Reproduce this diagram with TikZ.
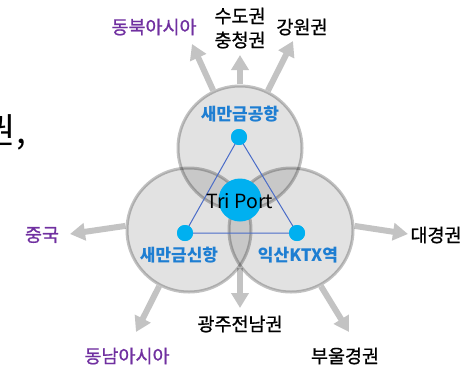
\documentclass[tikz,border=0pt]{standalone}
\usepackage{fontspec}
\setmainfont{Noto Sans CJK KR}
\newfontfamily\medfont{Noto Sans CJK KR}[FakeBold=0.9]
\usetikzlibrary{arrows.meta}
\definecolor{arrgray}{HTML}{C3C3C3}
\definecolor{labblue}{HTML}{1E7ED2}
\definecolor{dotcyan}{HTML}{00B0F0}
\definecolor{linblue}{HTML}{4A6CC8}
\definecolor{labpurple}{HTML}{7030A0}
\tikzset{
  zone/.style={circle, minimum size=124pt, inner sep=0pt, fill=black, fill opacity=0.115, draw=black, draw opacity=0.24, line width=3pt},
  arr/.style={draw=arrgray, line width=6pt, -{Triangle[width=17pt,length=15pt]}, shorten <=1.5pt},
  outlab/.style={font=\medfont\fontsize{18.5}{24}\selectfont, text=black, inner sep=0pt, align=center},
  farlab/.style={outlab, text=labpurple},
  portlab/.style={font=\bfseries\fontsize{17}{19}\selectfont, text=labblue, inner sep=0pt},
  portdot/.style={circle, fill=dotcyan, minimum size=16pt, inner sep=0pt},
  tri/.style={draw=linblue, line width=1pt}
}
\begin{document}
\begin{tikzpicture}[x=1pt,y=-1pt]
\useasboundingbox (0,0) rectangle (470,365);
\clip (0,0) rectangle (470,365);
% circle geometry (used as anchors)
\coordinate (Tc) at (240,148);
\coordinate (Lc) at (189,230);
\coordinate (Rc) at (291,230);
% tips of arrows
\coordinate (tNEA) at (192,44);
\coordinate (tSC) at (240,55);
\coordinate (tGW) at (293,41);
\coordinate (tCN) at (70,234);
\coordinate (tSEA) at (136,332);
\coordinate (tGJ) at (240,308);
\coordinate (tDG) at (408,234);
\coordinate (tBU) at (349,332);
\coordinate (bGJ) at (240,266);
% invisible circle nodes for anchors
\node[circle, minimum size=124pt, inner sep=0pt] (T0) at (Tc) {};
\node[circle, minimum size=124pt, inner sep=0pt] (L0) at (Lc) {};
\node[circle, minimum size=124pt, inner sep=0pt] (R0) at (Rc) {};
% arrows
\draw[arr] (T0.115) -- (tNEA);
\draw[arr] (T0.90) -- (tSC);
\draw[arr] (T0.64) -- (tGW);
\draw[arr] (L0.176) -- (tCN);
\draw[arr] (L0.242) -- (tSEA);
\draw[arr] (bGJ) -- (tGJ);
\draw[arr] (R0.4) -- (tDG);
\draw[arr] (R0.298) -- (tBU);
% zones
\node[zone] (T) at (Tc) {};
\node[zone] (L) at (Lc) {};
\node[zone] (R) at (Rc) {};
% hub
\node[portdot] (dT) at (239,137) {};
\node[portdot] (dL) at (185,233) {};
\node[portdot] (dR) at (297,233) {};
\draw[tri] (dT.center) -- (dL.center) -- (dR.center) -- cycle;
\node[circle, fill=dotcyan, minimum size=43pt, inner sep=0pt] (hub) at (240,200) {};
\node[font=\fontsize{19.5}{21}\selectfont, inner sep=0pt] (hubtxt) at (240,201) {Tri Port};
\node[portdot] at (dT) {};
\node[portdot] at (dL) {};
\node[portdot] at (dR) {};
% port labels
\node[portlab] (lT) at (240,114) {새만금공항};
\node[portlab] (lL) at (179,255) {새만금신항};
\node[portlab] (lR) at (298,255) {익산KTX역};
% region labels
\node[farlab] (nea) at (154,27) {동북아시아};
\node[outlab] (sc) at (240,28) {수도권\\충청권};
\node[outlab] (gw) at (302,27) {강원권};
\node[farlab] (cn) at (42,235) {중국};
\node[farlab] (sea) at (127,356) {동남아시아};
\node[outlab] (gj) at (240,324) {광주전남권};
\node[outlab] (dg) at (436,235) {대경권};
\node[outlab] (bu) at (345,356) {부울경권};
% cut-off text at left edge (as in the reference)
\node[font=\fontsize{35}{40}\selectfont, anchor=east, inner sep=0pt] (cut) at (26,132) {권,};
\end{tikzpicture}
\end{document}
